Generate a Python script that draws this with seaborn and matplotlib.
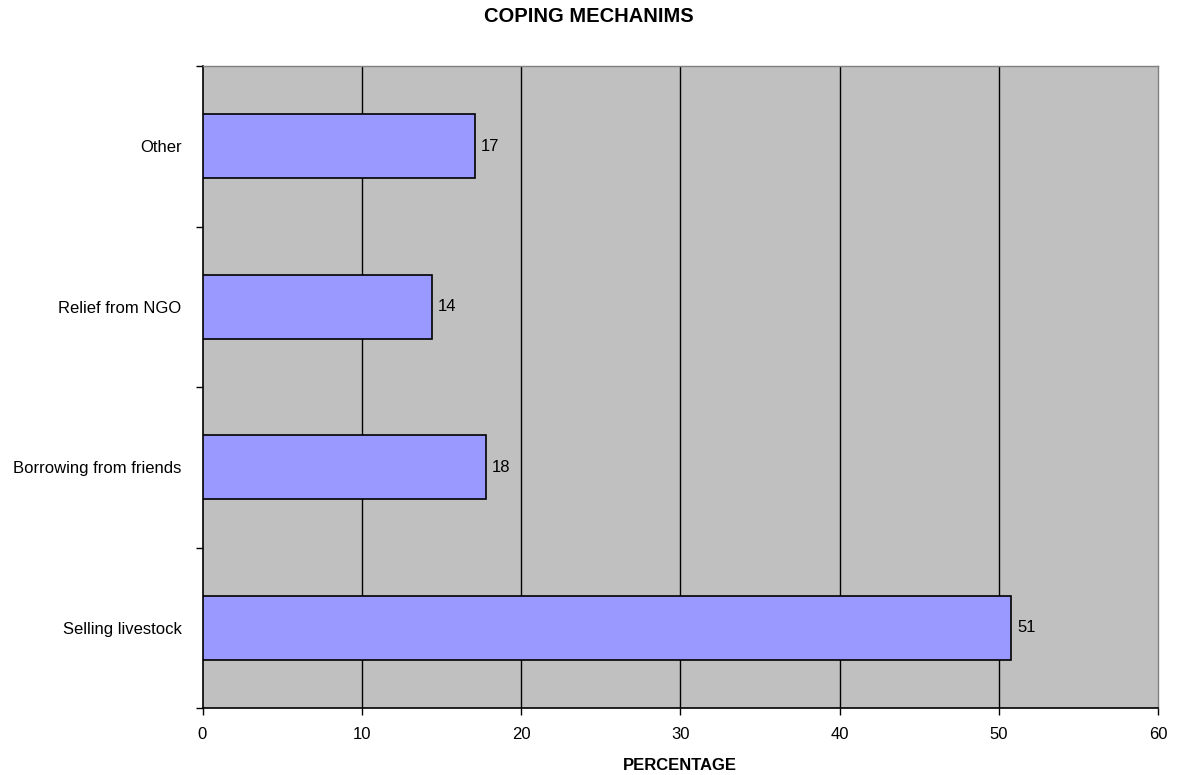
import matplotlib
matplotlib.use("Agg")
import matplotlib.pyplot as plt
import seaborn as sns
import pandas as pd
import numpy as np

# Coping mechanisms, shares in percent (top to bottom)
categories = ["Other", "Relief from NGO", "Borrowing from friends", "Selling livestock"]
percentages = [17.1, 14.4, 17.8, 50.8]
x_ticks = [0, 10, 20, 30, 40, 50, 60]

sns.set_theme(style="white")
plt.rcParams["font.family"] = ["Liberation Sans", "DejaVu Sans"]
plt.rcParams["text.color"] = "black"
plt.rcParams["xtick.color"] = "black"
plt.rcParams["ytick.color"] = "black"
plt.rcParams["axes.labelcolor"] = "black"

FS = 12

df = pd.DataFrame({"category": categories, "pct": percentages})

fig = plt.figure(figsize=(11.77, 7.75), dpi=100)
ax = fig.add_axes([202.5 / 1177, 1 - 708 / 775, (1158 - 202.5) / 1177, (708 - 66) / 775])
ax.set_facecolor("#C0C0C0")

sns.barplot(data=df, x="pct", y="category", order=categories, orient="h",
            color="#9999FF", edgecolor="black", linewidth=1.2, width=0.4,
            saturation=1, ax=ax, zorder=3)

ax.set_xlim(0, 60)
ax.set_ylim(len(categories) - 0.5, -0.5)
ax.set_xticks(x_ticks)
ax.set_xticklabels([str(t) for t in x_ticks], fontsize=FS)

# vertical gridlines
for t in x_ticks[1:-1]:
    ax.axvline(t, color="black", linewidth=1.0, zorder=1)

# category labels without tick marks; marks sit between categories
ax.tick_params(axis="y", which="major", length=0, pad=15, labelsize=FS)
ax.set_yticks(np.arange(-0.5, len(categories), 1.0), minor=True)
ax.tick_params(axis="y", which="minor", length=5, width=1, color="black", direction="out", left=True)
ax.tick_params(axis="x", which="major", length=5, width=1, color="black", direction="out",
               bottom=True, pad=8.5)

for side in ["top", "right"]:
    ax.spines[side].set_color("#808080")
    ax.spines[side].set_linewidth(1.0)
for side in ["left", "bottom"]:
    ax.spines[side].set_color("black")
    ax.spines[side].set_linewidth(1.2)

for cont in ax.containers:
    ax.bar_label(cont, labels=[f"{v:.0f}" for v in percentages], padding=4, fontsize=FS)

ax.set_ylabel("")
ax.set_xlabel("PERCENTAGE", fontsize=FS, fontweight="bold", labelpad=12)
fig.text(0.5, 1 - 17 / 775, "COPING MECHANIMS",
         ha="center", va="center", fontsize=14.5, fontweight="bold")

fig.savefig("out.png", dpi=100)
